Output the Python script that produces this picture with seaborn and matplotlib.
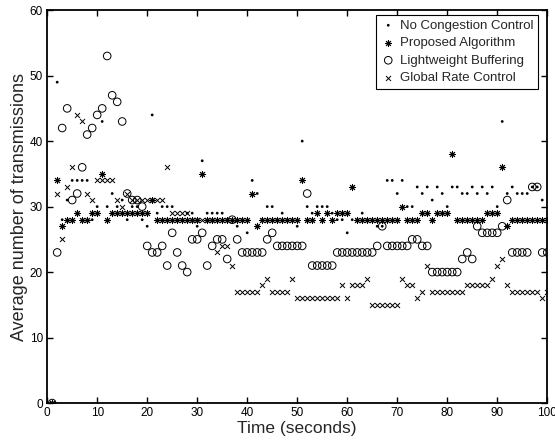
import matplotlib
matplotlib.use("Agg")
import matplotlib.pyplot as plt
import seaborn as sns
import numpy as np

# time steps (seconds)
time_s = np.arange(1, 101)

no_congestion = [0, 49, 28, 31, 34, 34, 34, 34, 28, 30,
                 43, 30, 32, 30, 31, 28, 30, 30, 28, 27,
                 44, 29, 30, 30, 30, 28, 28, 29, 29, 27,
                 37, 29, 29, 29, 29, 28, 28, 27, 28, 26,
                 34, 32, 28, 30, 30, 28, 29, 28, 28, 27,
                 40, 30, 29, 30, 30, 30, 29, 28, 28, 26,
                 28, 28, 29, 28, 28, 27, 27, 34, 34, 32,
                 34, 30, 30, 33, 32, 33, 31, 33, 32, 30,
                 33, 33, 32, 32, 33, 32, 33, 32, 33, 30,
                 43, 32, 33, 32, 32, 32, 33, 33, 31, 28]

proposed = [0, 34, 27, 28, 28, 29, 28, 28, 29, 29,
            35, 28, 29, 29, 29, 29, 29, 29, 29, 29,
            31, 28, 28, 28, 28, 28, 28, 28, 28, 28,
            35, 28, 28, 28, 28, 28, 28, 28, 28, 28,
            32, 27, 28, 28, 28, 28, 28, 28, 28, 28,
            34, 28, 28, 29, 28, 29, 28, 29, 29, 29,
            33, 28, 28, 28, 28, 28, 28, 28, 28, 28,
            30, 28, 28, 28, 29, 29, 28, 29, 29, 29,
            38, 28, 28, 28, 28, 28, 28, 29, 29, 29,
            36, 27, 28, 28, 28, 28, 28, 28, 28, 28]

lightweight = [0, 23, 42, 45, 31, 32, 36, 41, 42, 44,
               45, 53, 47, 46, 43, 32, 31, 31, 30, 24,
               23, 23, 24, 21, 26, 23, 21, 20, 25, 25,
               26, 21, 24, 25, 25, 22, 28, 25, 23, 23,
               23, 23, 23, 25, 26, 24, 24, 24, 24, 24,
               24, 32, 21, 21, 21, 21, 21, 23, 23, 23,
               23, 23, 23, 23, 23, 24, 27, 24, 24, 24,
               24, 24, 25, 25, 24, 24, 20, 20, 20, 20,
               20, 20, 22, 23, 22, 27, 26, 26, 26, 26,
               27, 31, 23, 23, 23, 23, 33, 33, 23, 23]

global_rate = [0, 32, 25, 33, 36, 44, 43, 32, 31, 34,
               34, 34, 34, 31, 30, 32, 31, 31, 31, 31,
               31, 31, 31, 36, 29, 29, 29, 29, 28, 28,
               28, 28, 28, 23, 24, 24, 21, 17, 17, 17,
               17, 17, 18, 19, 17, 17, 17, 17, 19, 16,
               16, 16, 16, 16, 16, 16, 16, 16, 18, 16,
               18, 18, 18, 19, 15, 15, 15, 15, 15, 15,
               19, 18, 18, 16, 17, 21, 17, 17, 17, 17,
               17, 17, 17, 18, 18, 18, 18, 18, 19, 21,
               22, 18, 17, 17, 17, 17, 17, 17, 16, 17]

sns.set_style("ticks")
plt.rcParams['font.family'] = ['Liberation Sans', 'DejaVu Sans']

fig = plt.figure(figsize=(5.55, 4.41), dpi=100)
ax = fig.add_axes([0.085, 0.086, 0.901, 0.891])

sns.scatterplot(x=time_s, y=no_congestion, marker='o', s=4, color='black',
                edgecolor='none', linewidth=0, label='No Congestion Control', ax=ax)
sns.scatterplot(x=time_s, y=proposed, marker=(8, 2, 0), s=20, color='black',
                edgecolor='black', linewidth=0.7, label='Proposed Algorithm', ax=ax)
sns.scatterplot(x=time_s, y=lightweight, marker='o', s=30, facecolor='none',
                edgecolor='black', linewidth=0.7, label='Lightweight Buffering', ax=ax)
sns.scatterplot(x=time_s, y=global_rate, marker='x', s=13, color='black',
                edgecolor='black', linewidth=0.7, label='Global Rate Control', ax=ax)

ax.set_xlim(0, 100)
ax.set_ylim(0, 60)
ax.set_xticks(range(0, 101, 10))
ax.set_yticks(range(0, 61, 10))
ax.set_xlabel('Time (seconds)', fontsize=12.5, labelpad=1)
ax.set_ylabel('Average number of transmissions', fontsize=13, labelpad=1)
ax.tick_params(direction='in', top=True, right=True, length=4, width=1,
               labelsize=8.5, colors='black', pad=3)
for sp in ax.spines.values():
    sp.set_visible(True)
    sp.set_linewidth(1.3)
    sp.set_color('black')

leg = ax.legend(loc='upper right', bbox_to_anchor=(0.982, 0.988), fontsize=9.5,
                frameon=True, fancybox=False, framealpha=1, edgecolor='black',
                borderpad=0.35, labelspacing=0.4, handletextpad=0.3,
                handlelength=1.2, borderaxespad=0)
leg.get_frame().set_linewidth(0.8)

fig.savefig('out.png', dpi=100)
